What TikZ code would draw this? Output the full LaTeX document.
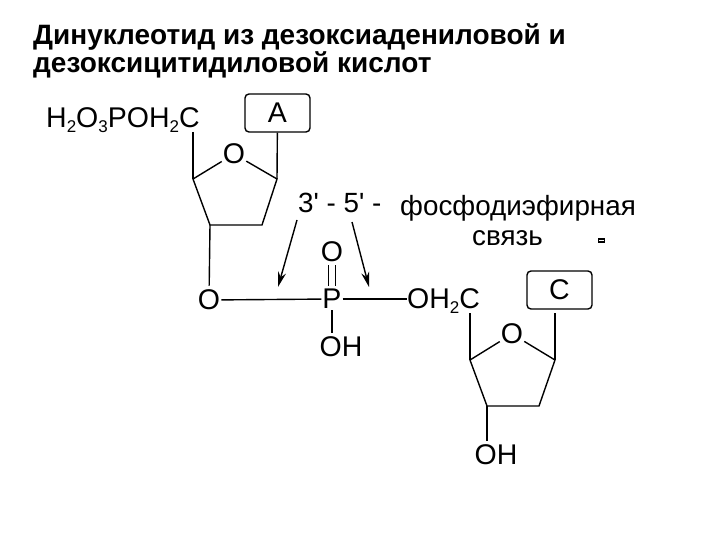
\documentclass[tikz,border=0pt]{standalone}
\usepackage{fontspec}
\setmainfont{Liberation Sans}
\usetikzlibrary{calc,arrows.meta}
\newcommand{\subnum}[1]{\raisebox{-5pt}{\fontsize{17}{17}\selectfont #1}}
\tikzset{
  chem/.style={inner sep=1pt,font=\fontsize{28.5}{28.5}\selectfont},
  lbl/.style={anchor=base west,inner sep=0pt,font=\fontsize{27.8}{27.8}\selectfont},
  ttl/.style={anchor=base west,inner sep=0pt,font=\fontsize{28}{28}\selectfont\bfseries},
  basebox/.style={draw,rounded corners=4pt,line width=1.4pt,minimum width=65pt,minimum height=38pt,inner sep=0pt,font=\fontsize{28.5}{28.5}\selectfont},
  bond/.style={line width=1.4pt},
  pointer/.style={line width=1.4pt,-{Stealth[length=15pt,width=8pt]}}
}
\begin{document}
\begin{tikzpicture}[x=1pt,y=-1pt]
\useasboundingbox (0,0) rectangle (720,540);
\node[ttl] (title1) at (33,45) {Динуклеотид из дезоксиадениловой и};
\node[ttl] (title2) at (33,73) {дезоксицитидиловой кислот};
% first ring
\node[chem,inner sep=0pt,anchor=base west] (phos) at (46,128) {H\subnum{2}O\subnum{3}POH\subnum{2}C};
\node[basebox] (boxA) at (277.5,113) {A};
\node[chem] (ringO1) at (234,154) {O};
\coordinate (a1) at (193,179);
\coordinate (a2) at (210,225);
\coordinate (a3) at (262,225);
\coordinate (a4) at (277,179);
\coordinate (a5) at (193,132);
\draw[bond] (ringO1) -- (a1) -- (a2) -- (a3) -- (a4) -- (ringO1);
\draw[bond] (a5) -- (a1);
\draw[bond] (boxA) -- (a4);
% phosphate
\node[chem] (O3) at (209,300) {O};
\node[chem] (P) at (332,299) {P};
\node[chem] (Otop) at (332,252) {O};
\node[chem] (OHp) at (341,347) {OH};
\node[chem,inner sep=0pt,anchor=base west] (OH2C) at (407,308) {OH\subnum{2}C};
\draw[bond,shorten >=3pt] (a2) -- (O3);
\draw[bond] (O3) -- (P);
\draw[bond] (P.east) -- (OH2C.west |- P.east);
\draw[bond,shorten >=3pt] (P) -- (P |- OHp.north);
\draw[bond,shorten >=2pt,shorten <=2pt] ($(P.north)+(-3.5,0)$) -- ($(Otop.south)+(-3.5,0)$);
\draw[bond,shorten >=2pt,shorten <=2pt] ($(P.north)+(3.5,0)$) -- ($(Otop.south)+(3.5,0)$);
% labels and arrows
\node[lbl] (bondL) at (298,212) {3\textquotesingle{} - 5\textquotesingle{} -};
\node[lbl] (bondR) at (400,215) {фосфодиэфирная};
\node[lbl] (bondS) at (472,245) {связь};
\node[draw,line width=1.2pt,minimum width=6pt,minimum height=3pt,inner sep=0pt] (mark) at (601.5,240.5) {};
\coordinate (p1) at (297,220);
\coordinate (p2) at (278,287);
\coordinate (p3) at (352,222);
\coordinate (p4) at (369,287);
\draw[pointer] (p1) -- (p2);
\draw[pointer] (p3) -- (p4);
% second ring
\node[basebox] (boxC) at (559.5,290) {C};
\node[chem] (ringO2) at (512,334) {O};
\node[chem] (OHr) at (496,455) {OH};
\coordinate (c1) at (470,360);
\coordinate (c2) at (487,406);
\coordinate (c3) at (539,406);
\coordinate (c4) at (555,360);
\coordinate (c5) at (470,313);
\coordinate (c6) at (555,313);
\draw[bond] (ringO2) -- (c1) -- (c2) -- (c3) -- (c4) -- (ringO2);
\draw[bond] (c5) -- (c1);
\draw[bond] (c6) -- (c4);
\draw[bond,shorten >=3pt] (c2) -- (c2 |- OHr.north);
\end{tikzpicture}
\end{document}
